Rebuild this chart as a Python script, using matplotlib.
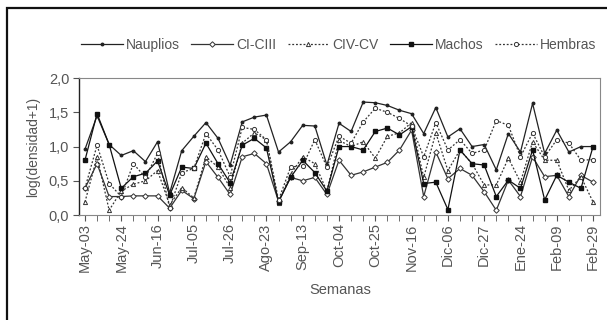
import numpy as np
import matplotlib.pyplot as plt
from matplotlib.patches import Rectangle
from matplotlib.ticker import FuncFormatter

plt.rcParams['font.family'] = ['Liberation Sans', 'DejaVu Sans']

# weekly samples, one label every third week
tick_labels = ["May-03", "May-24", "Jun-16", "Jul-05", "Jul-26", "Ago-23", "Sep-13",
               "Oct-04", "Oct-25", "Nov-16", "Dic-06", "Dic-27", "Ene-24", "Feb-09", "Feb-29"]

nauplios = [0.96, 1.45, 1.03, 0.87, 0.94, 0.78, 1.07, 0.32, 0.94, 1.15, 1.35,
            1.12, 0.73, 1.36, 1.43, 1.46, 0.92, 1.07, 1.31, 1.30, 0.73, 1.34,
            1.22, 1.65, 1.64, 1.60, 1.53, 1.48, 1.19, 1.57, 1.14, 1.26, 1.00,
            1.03, 0.66, 1.19, 0.92, 1.63, 0.90, 1.24, 0.92, 1.00, 1.00]
ci_ciii = [0.39, 0.75, 0.27, 0.27, 0.28, 0.28, 0.28, 0.10, 0.36, 0.24, 0.78,
           0.55, 0.30, 0.85, 0.90, 0.75, 0.20, 0.55, 0.50, 0.55, 0.30, 0.80,
           0.58, 0.63, 0.70, 0.77, 0.95, 1.24, 0.27, 0.92, 0.53, 0.68, 0.58,
           0.34, 0.07, 0.51, 0.27, 0.85, 0.56, 0.58, 0.27, 0.58, 0.48]
civ_cv = [0.19, 0.85, 0.07, 0.35, 0.45, 0.50, 0.65, 0.15, 0.40, 0.25, 0.85,
          0.70, 0.40, 1.05, 1.20, 1.10, 0.18, 0.60, 0.85, 0.75, 0.35, 1.09,
          1.00, 1.07, 0.83, 1.15, 1.20, 1.35, 0.55, 1.20, 0.65, 0.95, 0.75,
          0.44, 0.44, 0.83, 0.48, 1.07, 0.80, 0.80, 0.36, 0.56, 0.19]
machos = [0.80, 1.48, 1.03, 0.39, 0.56, 0.61, 0.79, 0.29, 0.70, 0.68, 1.05,
          0.75, 0.47, 1.02, 1.12, 0.98, 0.19, 0.55, 0.80, 0.62, 0.35, 1.00,
          1.00, 0.95, 1.22, 1.27, 1.17, 1.29, 0.46, 0.48, 0.08, 0.95, 0.75,
          0.73, 0.27, 0.51, 0.39, 0.95, 0.22, 0.58, 0.48, 0.39, 1.00]
hembras = [0.39, 1.02, 0.46, 0.27, 0.75, 0.55, 0.90, 0.10, 0.62, 0.68, 1.19,
           0.95, 0.56, 1.28, 1.25, 1.10, 0.22, 0.70, 0.72, 1.10, 0.70, 1.15,
           1.05, 1.36, 1.56, 1.50, 1.41, 1.30, 0.85, 1.35, 0.95, 1.10, 0.90,
           0.95, 1.38, 1.31, 0.85, 1.20, 0.85, 1.10, 1.05, 0.80, 0.81]

x = np.arange(len(nauplios))
grey = '#555555'

fig = plt.figure(figsize=(6.07, 3.2), dpi=100)
ax = fig.add_axes([0.130, 0.328, 0.858, 0.428])

ax.plot(x, nauplios, color='#222222', lw=0.9, marker='o', ms=1.8, label='Nauplios')
ax.plot(x, ci_ciii, color='#333333', lw=0.9, marker='D', ms=2.8, mfc='white',
        mew=0.7, label='CI-CIII')
ax.plot(x, civ_cv, color='#333333', lw=0.9, ls=(0, (1.5, 1.5)), marker='^', ms=3,
        mfc='white', mew=0.7, label='CIV-CV')
ax.plot(x, machos, color='#111111', lw=0.9, marker='s', ms=3, label='Machos')
ax.plot(x, hembras, color='#333333', lw=0.9, ls=(0, (1.5, 1.5)), marker='o', ms=3,
        mfc='white', mew=0.7, label='Hembras')

ax.set_xlim(-0.5, 42.55)
ax.set_ylim(0, 2.0)
ax.set_yticks([0, 0.5, 1.0, 1.5, 2.0])
ax.yaxis.set_major_formatter(FuncFormatter(lambda v, p: f"{v:.1f}".replace('.', ',')))
ax.set_xticks(x[::3])
ax.set_xticklabels(tick_labels, rotation=90)
ax.set_xticks(x, minor=True)

for s in ['top', 'right', 'bottom']:
    ax.spines[s].set_color('#888888')
    ax.spines[s].set_linewidth(0.8)
ax.spines['left'].set_color('#222222')
ax.spines['left'].set_linewidth(1.0)
ax.tick_params(axis='x', which='both', direction='out', length=4, color='#555555',
               labelsize=10.5, labelcolor=grey, pad=2)
ax.tick_params(axis='y', direction='out', length=4, color='#555555',
               labelsize=10.5, labelcolor=grey, pad=3)

ax.set_ylabel('log(densidad+1)', fontsize=10, color=grey, labelpad=6)
fig.text(0.56, 0.094, 'Semanas', fontsize=10.5, color=grey, ha='center', va='center')

fig.legend(loc='center', bbox_to_anchor=(0.558, 0.86), ncol=5, frameon=False,
           fontsize=10, handlelength=3.0, columnspacing=0.8, handletextpad=0.25,
           labelcolor=grey)

fig.patches.append(Rectangle((7 / 607, -0.1), 1.2, 1.1 - 8 / 320, transform=fig.transFigure,
                             fill=False, edgecolor='#111111', lw=1.6))

fig.savefig('out.png', dpi=100)
